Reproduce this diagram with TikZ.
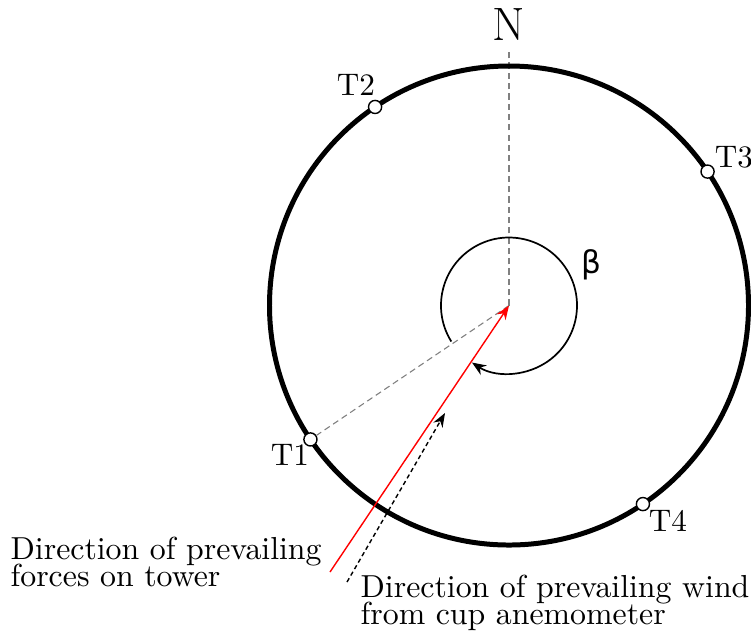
\documentclass[tikz,border=0pt]{standalone}
\usepackage{fontspec}
\newfontfamily\betafont{DejaVu Sans}
\usetikzlibrary{arrows.meta}
\newcommand\mytightlines{\lineskiplimit=-5pt\relax\lineskip=0pt\relax}
\tikzset{
  tower/.style={circle,draw=black,fill=white,line width=0.45pt,inner sep=0pt,minimum size=4.2pt},
  tlabel/.style={inner sep=0pt,font=\fontsize{10}{12}\selectfont},
  desc/.style={inner sep=0pt,align=left,anchor=north west,font=\fontsize{10.2}{8.5}\selectfont\mytightlines},
  guide/.style={gray,dash pattern=on 2pt off 1.3pt,line width=0.35pt},
}
\begin{document}
\begin{tikzpicture}[x=0.3205pt,y=0.3205pt]
\useasboundingbox (-509,-325.5) rectangle (242,305.5);
\coordinate (c) at (0,0);
% north guide
\coordinate (ntop) at (0,255.5);
\draw[guide] (c) -- (ntop);
\node[font=\fontsize{15}{18}\selectfont,anchor=base,inner sep=0pt] (nlab) at (0,264.8) {N};
% outer circle
\draw[line width=1.6pt] (c) circle[radius=239.5];
% towers
\node[tower] (t1) at (214:239.5) {};
\node[tower] (t2) at (124:239.5) {};
\node[tower] (t3) at (34:239.5) {};
\node[tower] (t4) at (-56:239.5) {};
\node[tlabel] (l1) at (-219,-149.5) {T1};
\node[tlabel] (l2) at (-153,220.5) {T2};
\node[tlabel] (l3) at (225,148.5) {T3};
\node[tlabel] (l4) at (159,-215.5) {T4};
% guide to T1
\draw[guide] (c) -- (t1);
% inner angle arc
\draw[line width=0.55pt,-{Stealth[length=4.5pt,width=3.6pt]}] (212:68) arc[start angle=212,end angle=-123,radius=68];
\node[font=\betafont\fontsize{10}{12}\selectfont,inner sep=0pt] (beta) at (82,40.5) {β};
% red arrow: forces
\coordinate (rstart) at (-179,-266.5);
\draw[red,line width=0.45pt,-{Stealth[length=4.5pt,width=3.4pt]}] (rstart) -- (c);
% dashed black arrow: wind
\coordinate (wstart) at (-162,-276.5);
\coordinate (wend) at (-64,-107.5);
\draw[black,line width=0.45pt,dash pattern=on 1.4pt off 1pt,-{Stealth[length=4.5pt,width=3.4pt]}] (wstart) -- (wend);
% descriptions
\node[desc] (dforce) at (-499,-231) {Direction of prevailing\\forces on tower};
\node[desc] (dwind) at (-149,-269) {Direction of prevailing wind\\from cup anemometer};
\end{tikzpicture}
\end{document}
